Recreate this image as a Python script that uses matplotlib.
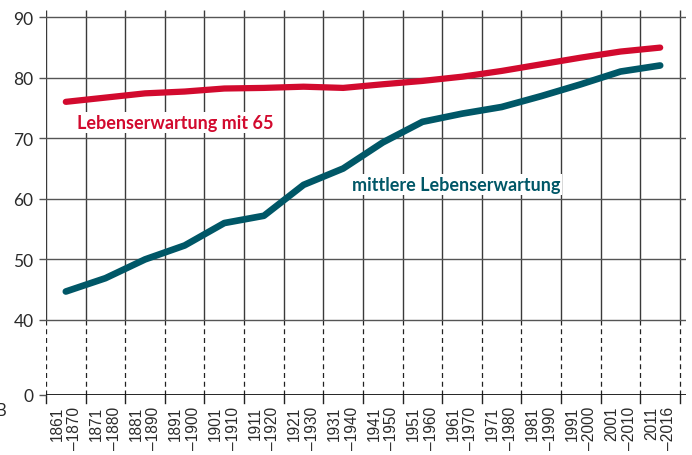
import matplotlib
matplotlib.use("Agg")
import matplotlib.pyplot as plt

# ---- data ----
periods_start = ["1861", "1871", "1881", "1891", "1901", "1911", "1921", "1931",
                 "1941", "1951", "1961", "1971", "1981", "1991", "2001", "2011"]
periods_end = ["1870", "1880", "1890", "1900", "1910", "1920", "1930", "1940",
               "1950", "1960", "1970", "1980", "1990", "2000", "2010", "2016"]
life_exp_65 = [76.0, 76.7, 77.4, 77.7, 78.2, 78.3, 78.5, 78.3,
               78.9, 79.45, 80.15, 81.1, 82.2, 83.3, 84.3, 84.95]
life_exp_mean = [44.7, 46.9, 50.0, 52.3, 56.0, 57.2, 62.3, 65.0,
                 69.3, 72.7, 74.05, 75.15, 76.95, 78.9, 81.0, 82.0]
ytick_values = [0, 40, 50, 60, 70, 80, 90]
label_65 = "Lebenserwartung mit 65"
label_mean = "mittlere Lebenserwartung"

RED = "#D20A2E"
TEAL = "#005767"
GRID = "#3a3a3a"
TXT = "#2a2a2a"

Y0 = 40 - 75 / 6.06  # display position of the broken-axis zero

fig = plt.figure(figsize=(6.92, 4.56), dpi=100)
W, H = 692, 456
left, right, top, bottom = 46, 686, 11, 396
ax = fig.add_axes([left / W, 1 - bottom / H, (right - left) / W, (bottom - top) / H])

n = len(periods_start)
x = list(range(n))
ytop = 90 + 7 / 6.06
ax.set_xlim(-0.5, n - 0.5 + 6 / 39.56)
ax.set_ylim(Y0, ytop)

# vertical grid lines: solid above 40, dashed below
for i in range(n + 1):
    xv = i - 0.5
    ax.plot([xv, xv], [40, ytop], color=GRID, lw=1.0, zorder=1, solid_capstyle="butt")
    ax.plot([xv, xv], [Y0, 40], color="#222222", lw=0.9, ls=(0, (4, 3)), zorder=1)
    ax.plot([xv, xv], [Y0 - 8 / 6.06, Y0], color="#222222", lw=1.0, zorder=1, clip_on=False)

# horizontal grid lines
for v in ytick_values[1:]:
    ax.axhline(v, color="#555555", lw=1.0, zorder=1)
ax.axhline(Y0, color="#111111", lw=2.0, zorder=2)

for s in ax.spines.values():
    s.set_visible(False)

ypos = [Y0 if v == 0 else v for v in ytick_values]
ax.set_yticks(ypos)
ax.set_yticklabels([str(v) for v in ytick_values], fontsize=12.5, color=TXT,
                   family=["Lato", "DejaVu Sans"])
ax.tick_params(axis="y", length=5, width=1, color="#555555", pad=4)
ax.set_xticks([])

# x labels (two-line rotated)
for i, (a, b) in enumerate(zip(periods_start, periods_end)):
    ax.text(i, Y0 - 11 / 6.06, a + "\n\u2013" + b, rotation=90, ha="center", va="top",
            multialignment="right", fontsize=11.2, color=TXT,
            family=["Liberation Sans", "DejaVu Sans"],
            linespacing=1.22, clip_on=False)

# lines
ax.plot(x, life_exp_65, color=RED, lw=4.5, solid_capstyle="round", solid_joinstyle="round", zorder=4)
ax.plot(x, life_exp_mean, color=TEAL, lw=4.8, solid_capstyle="round", solid_joinstyle="round", zorder=4)

# labels with white background, fitted to target width
renderer = fig.canvas.get_renderer()


def fitted_label(xd, yd, s, color, target_px):
    t = ax.text(xd, yd, s, color=color, fontsize=14, fontweight="bold",
                family=["Lato", "DejaVu Sans"], ha="left", va="center", zorder=3)
    w = t.get_window_extent(renderer).width
    t.set_fontsize(14 * target_px / w)
    t.set_bbox(dict(facecolor="white", edgecolor="none", pad=1.5))
    return t


fitted_label(0.27, 72.6, label_65, RED, 197)
fitted_label(7.22, 62.4, label_mean, TEAL, 210)

fig.text(6 / W, 1 - 411 / H, "B", ha="right", va="center", fontsize=12, color=TXT,
         family=["Lato", "DejaVu Sans"])

fig.savefig("out.png", dpi=100)
